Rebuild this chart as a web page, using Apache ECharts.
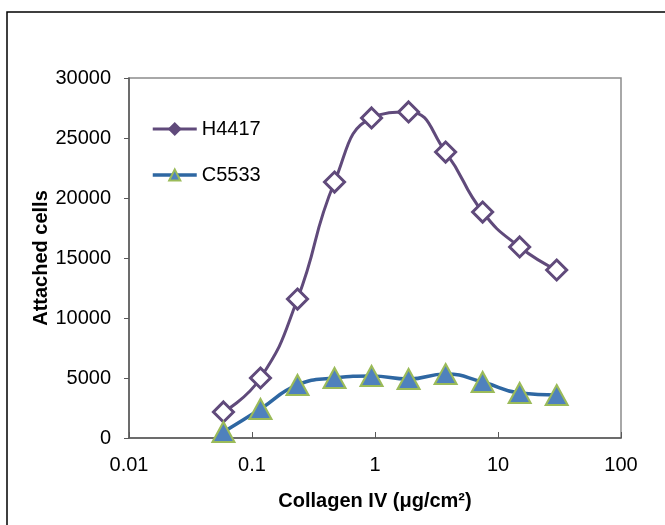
<!DOCTYPE html>
<html>
<head>
<meta charset="utf-8">
<script src="https://cdn.jsdelivr.net/npm/echarts@6/dist/echarts.min.js"></script>
<style>
    html, body {margin: 0; padding: 0; background: #fff;}
    #main {width: 665px; height: 525px;}
</style>
</head>
<body>
<div id="main"></div>
<script>
// 浓度 (μg/cm²)
var doses = [0.05859375, 0.1171875, 0.234375, 0.46875, 0.9375, 1.875, 3.75, 7.5, 15, 30]
var h4417 = [2170, 5000, 11580, 21330, 26670, 27170, 23830, 18830, 15920, 14000]
var c5533 = [500, 2420, 4420, 5000, 5170, 4920, 5330, 4670, 3750, 3580]
var xTicks = [0.01, 0.1, 1, 10, 100]
var yTicks = [0, 5000, 10000, 15000, 20000, 25000, 30000]

function pairs (xs, ys) {
    return xs.map(function (x, i) { return [x, ys[i]] })
}

var font = 'Liberation Sans, Arial, sans-serif'
var purple = '#604a7b'
var blue = '#2e67a2'

function _initChart () {
    var myChart = echarts.init(document.getElementById('main'));
    var option = {
        animation: false,
        graphic: [
            {
                type: 'rect',
                shape: {x: 7, y: 12, width: 700, height: 600},
                style: {fill: 'none', stroke: '#000', lineWidth: 1.5},
                silent: true
            }
        ],
        grid: {
            left: 129,
            top: 78,
            right: 44,
            bottom: 87,
            show: true,
            borderColor: '#8c8c8c',
            borderWidth: 1.5
        },
        legend: {
            orient: 'vertical',
            left: 151,
            top: 119,
            padding: 0,
            itemWidth: 44,
            itemHeight: 14,
            itemGap: 26,
            textStyle: {fontFamily: font, fontSize: 20, color: '#000'},
            data: [
                {name: 'H4417', itemStyle: {color: purple, borderColor: purple}, lineStyle: {width: 3}},
                {name: 'C5533', lineStyle: {width: 3.5}}
            ]
        },
        xAxis: {
            type: 'log',
            logBase: 10,
            min: xTicks[0],
            max: xTicks[xTicks.length - 1],
            name: 'Collagen IV (μg/cm²)',
            nameLocation: 'middle',
            nameGap: 53,
            nameMoveOverlap: false,
            nameTextStyle: {fontFamily: font, fontSize: 20, fontWeight: 'bold', color: '#000'},
            axisLine: {lineStyle: {color: '#595959', width: 1.5}},
            axisTick: {inside: true, length: 6, lineStyle: {color: '#595959'}},
            minorTick: {show: false},
            splitLine: {show: false},
            axisLabel: {
                fontFamily: font,
                fontSize: 20,
                color: '#000',
                margin: 17,
                formatter: function (v) {
                    var hit = xTicks.filter(function (t) { return Math.abs(t - v) / t < 1e-6 })
                    return hit.length ? String(hit[0]) : ''
                }
            }
        },
        yAxis: {
            type: 'value',
            min: yTicks[0],
            max: yTicks[yTicks.length - 1],
            interval: 5000,
            name: 'Attached cells',
            nameLocation: 'middle',
            nameGap: 78,
            nameMoveOverlap: false,
            nameTextStyle: {fontFamily: font, fontSize: 20, fontWeight: 'bold', color: '#000'},
            axisLine: {show: true, lineStyle: {color: '#595959', width: 1.5}},
            axisTick: {show: true, length: 5, lineStyle: {color: '#595959'}},
            splitLine: {show: false},
            axisLabel: {
                fontFamily: font,
                fontSize: 20,
                color: '#000',
                margin: 18,
                formatter: function (v) { return String(v) }
            }
        },
        series: [
            {
                name: 'H4417',
                type: 'line',
                smooth: 0.5,
                symbol: 'diamond',
                symbolSize: 20,
                lineStyle: {color: purple, width: 3},
                itemStyle: {color: '#fff', borderColor: purple, borderWidth: 3},
                data: pairs(doses, h4417),
                z: 2
            },
            {
                name: 'C5533',
                type: 'line',
                smooth: 0.5,
                symbol: 'triangle',
                symbolSize: [22, 20],
                lineStyle: {color: blue, width: 3.5},
                itemStyle: {color: '#4f81bd', borderColor: '#9bbb59', borderWidth: 2},
                data: pairs(doses, c5533),
                z: 3
            }
        ]
    };
    myChart.setOption(option)
}

_initChart()
</script>
</body>
</html>
